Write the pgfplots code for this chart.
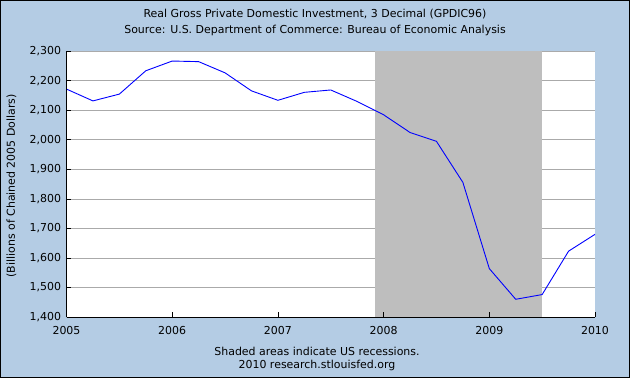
\documentclass[border=0pt]{standalone}
\usepackage{pgfplots}
\pgfplotsset{compat=1.18}
\usepackage{fontspec}
\setmainfont{DejaVu Sans}
\definecolor{bgblue}{RGB}{180,204,228}
\definecolor{shadegray}{RGB}{190,190,190}
\definecolor{gridgray}{RGB}{170,170,170}
\definecolor{lineblue}{RGB}{0,0,255}
\pgfplotstableread{
x v
2005.00 2172
2005.25 2132
2005.50 2155
2005.75 2234
2006.00 2267
2006.25 2265
2006.50 2227
2006.75 2166
2007.00 2134
2007.25 2161
2007.50 2169
2007.75 2130
2008.00 2085
2008.25 2025
2008.50 1995
2008.75 1856
2009.00 1564
2009.25 1460
2009.50 1476
2009.75 1623
2010.00 1680
}\gdpi
\begin{document}
\fontsize{11}{13}\selectfont
\begin{tikzpicture}
\useasboundingbox (0,0) rectangle (630bp,378bp);
\fill[bgblue] (0,0) rectangle (630bp,378bp);
\draw[black,line width=1bp] (0.5bp,0.5bp) rectangle (629.5bp,377.5bp);
\begin{axis}[
  at={(66.5bp,61bp)}, anchor=south west,
  scale only axis, width=528.5bp, height=265.7bp,
  xmin=2005, xmax=2010, ymin=1400, ymax=2300,
  axis x line*=bottom, axis y line*=left,
  axis on top,
  axis background/.style={fill=white},
  xtick={2005,2006,...,2010},
  ytick={1400,1500,...,2300},
  tick align=inside, major tick length=5bp,
  tick style={black, line width=0.8bp},
  axis line style={black, line width=1bp},
  ticklabel style={font=\fontsize{11}{13}\selectfont},
  yticklabel style={xshift=-1.6bp, /pgf/number format/1000 sep={,}},
  xticklabel style={yshift=-5.5bp, /pgf/number format/1000 sep={}},
  /pgf/number format/assume math mode=true,
]
\pgfplotsinvokeforeach{1500,1600,...,2300}{
  \addplot[gridgray, line width=0.8bp, forget plot] coordinates {(2005,#1) (2010,#1)};
}
\addplot[fill=shadegray, draw=none] coordinates {(2007.917,2300) (2009.5,2300)} \closedcycle;
\addplot[lineblue, line width=0.9bp, mark=none] table[x=x, y=v] {\gdpi};
\end{axis}
\node at (315bp,364.3bp) {Real Gross Private Domestic Investment, 3 Decimal (GPDIC96)};
\node at (315bp,347.9bp) {Source: U.S. Department of Commerce: Bureau of Economic Analysis};
\node at (317bp,26.3bp) {Shaded areas indicate US recessions.};
\node at (317bp,13bp) {2010 research.stlouisfed.org};
\node[rotate=90] at (11.5bp,192.2bp) {(Billions of Chained 2005 Dollars)};
\end{tikzpicture}
\end{document}
